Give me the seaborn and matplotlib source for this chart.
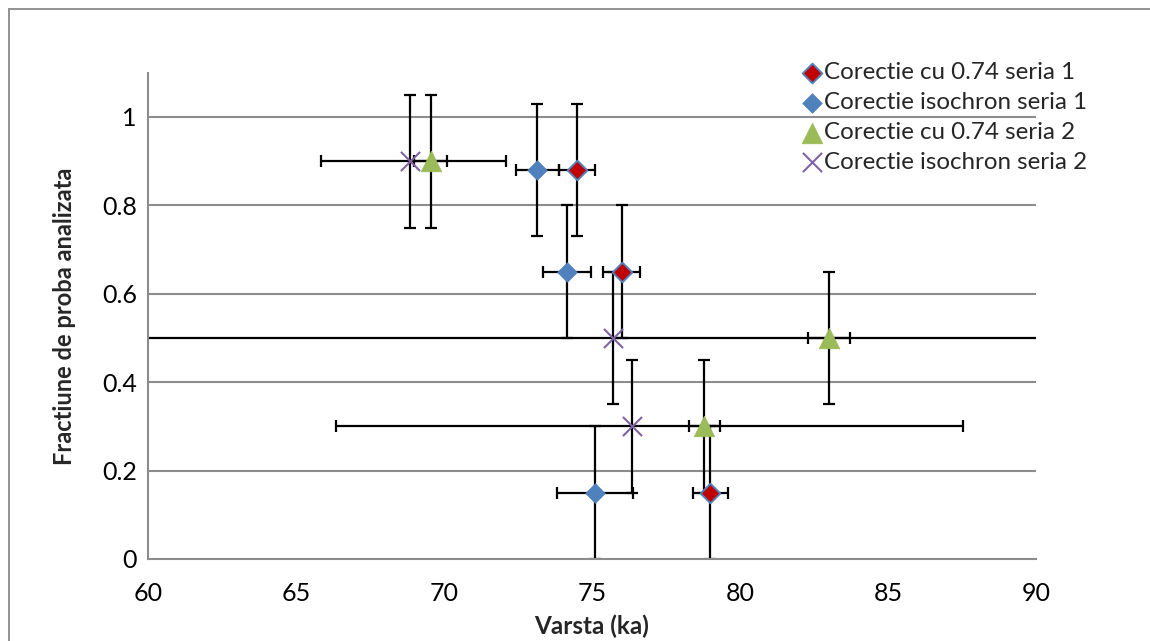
import matplotlib
matplotlib.use("Agg")
import matplotlib.pyplot as plt
from matplotlib.lines import Line2D
import numpy as np
import pandas as pd
import seaborn as sns

# --- data -------------------------------------------------------------
labels = [
    "Corectie cu 0.74 seria 1",
    "Corectie isochron seria 1",
    "Corectie cu 0.74 seria 2",
    "Corectie isochron seria 2",
]

s1_x = [74.5, 76.0, 79.0]
s1_y = [0.88, 0.65, 0.15]
s1_xerr = [0.6, 0.62, 0.58]
s1_yerr = [0.15, 0.15, 0.15]

s2_x = [73.15, 74.15, 75.1]
s2_y = [0.88, 0.65, 0.15]
s2_xerr = [0.72, 0.82, 1.27]
s2_yerr = [0.15, 0.15, 0.15]

s3_x = [69.55, 83.0, 78.8]
s3_y = [0.9, 0.5, 0.3]
s3_xerr = [0.56, 0.71, 0.53]
s3_yerr = [0.15, 0.15, 0.15]

s4_x = [68.85, 75.7, 76.35]
s4_y = [0.9, 0.5, 0.3]
s4_xerr_lo = [3.0, 16.0, 10.0]
s4_xerr_hi = [3.25, 16.0, 11.2]
s4_yerr = [0.15, 0.15, 0.15]

x_ticks = [60, 65, 70, 75, 80, 85, 90]
y_ticks = [0, 0.2, 0.4, 0.6, 0.8, 1.0]
y_tick_labels = ["0", "0.2", "0.4", "0.6", "0.8", "1"]

# --- style ------------------------------------------------------------
sns.set_style("white")
plt.rcParams["font.family"] = ["Lato", "DejaVu Sans"]

GRID = "#8c8c8c"
BLUE = "#4F81BD"
RED = "#C00000"
GREEN = "#9BBB59"
PURPLE = "#8064A2"

W, H = 1150, 641
fig = plt.figure(figsize=(W / 100, H / 100), dpi=100)
ax = fig.add_axes([148 / W, (H - 559) / H, 888 / W, (559 - 72.8) / H])

# outer chart-area frame
fig.add_artist(Line2D([8.5 / W, 8.5 / W], [0, 1 - 8.5 / H],
                      transform=fig.transFigure, color="#8a8a8a", lw=1.3))
fig.add_artist(Line2D([8.5 / W, 1.0], [1 - 8.5 / H, 1 - 8.5 / H],
                      transform=fig.transFigure, color="#8a8a8a", lw=1.3))

# --- error bars (drawn beneath the markers) ---------------------------
eb = dict(fmt="none", ecolor="black", elinewidth=1.6, capsize=4.5,
          capthick=1.6, zorder=2)
ax.errorbar(s1_x, s1_y, xerr=s1_xerr, yerr=s1_yerr, **eb)
ax.errorbar(s2_x, s2_y, xerr=s2_xerr, yerr=s2_yerr, **eb)
ax.errorbar(s3_x, s3_y, xerr=s3_xerr, yerr=s3_yerr, **eb)
ax.errorbar(s4_x, s4_y, xerr=[s4_xerr_lo, s4_xerr_hi], yerr=s4_yerr, **eb)

# --- markers ----------------------------------------------------------
df1 = pd.DataFrame({"x": s1_x, "y": s1_y})
df2 = pd.DataFrame({"x": s2_x, "y": s2_y})
df3 = pd.DataFrame({"x": s3_x, "y": s3_y})
df4 = pd.DataFrame({"x": s4_x, "y": s4_y})

sns.scatterplot(data=df1, x="x", y="y", ax=ax, marker="D", s=100,
                color=RED, edgecolor=BLUE, linewidth=1.4, zorder=4,
                label=labels[0])
sns.scatterplot(data=df2, x="x", y="y", ax=ax, marker="D", s=100,
                color=BLUE, edgecolor=BLUE, linewidth=0.5, zorder=4,
                label=labels[1])
sns.scatterplot(data=df3, x="x", y="y", ax=ax, marker="^", s=220,
                color=GREEN, edgecolor=GREEN, linewidth=0.5, zorder=4,
                label=labels[2])
sns.scatterplot(data=df4, x="x", y="y", ax=ax, marker="x", s=190,
                color=PURPLE, linewidth=1.5, zorder=4,
                label=labels[3])

# --- axes -------------------------------------------------------------
ax.set_xlim(60, 90)
ax.set_ylim(0, 1.1)
ax.set_xticks(x_ticks)
ax.set_xticklabels([str(t) for t in x_ticks])
ax.set_yticks(y_ticks)
ax.set_yticklabels(y_tick_labels)

ax.grid(False)
for yv in y_ticks[1:]:
    ax.axhline(yv, color=GRID, lw=1.5, zorder=1)

for side in ("top", "right"):
    ax.spines[side].set_visible(False)
for side in ("left", "bottom"):
    ax.spines[side].set_color(GRID)
    ax.spines[side].set_linewidth(1.5)

ax.tick_params(axis="both", which="major", direction="out", length=6,
               width=1.3, color=GRID, labelsize=18, labelcolor="black")
ax.tick_params(axis="x", pad=10.5)
ax.tick_params(axis="y", pad=2)

ax.set_xlabel("Varsta (ka)", fontsize=17.5, fontweight="bold")
ax.set_ylabel("Fractiune de proba analizata", fontsize=17, fontweight="bold")
ax.xaxis.set_label_coords(0.5, (559 - 626) / 486.2)
ax.xaxis.label.set_va("center")
ax.yaxis.set_label_coords((65 - 148) / 888, 0.5)
ax.yaxis.label.set_va("center")

leg = ax.legend(loc="upper left", bbox_to_anchor=(802 / W, 1 - 62 / H),
                bbox_transform=fig.transFigure, frameon=False,
                fontsize=17.4, handlelength=0.8, handletextpad=0.12,
                labelspacing=0.37, borderpad=0, borderaxespad=0,
                scatterpoints=1)

fig.savefig("out.png", dpi=100, facecolor="white")
